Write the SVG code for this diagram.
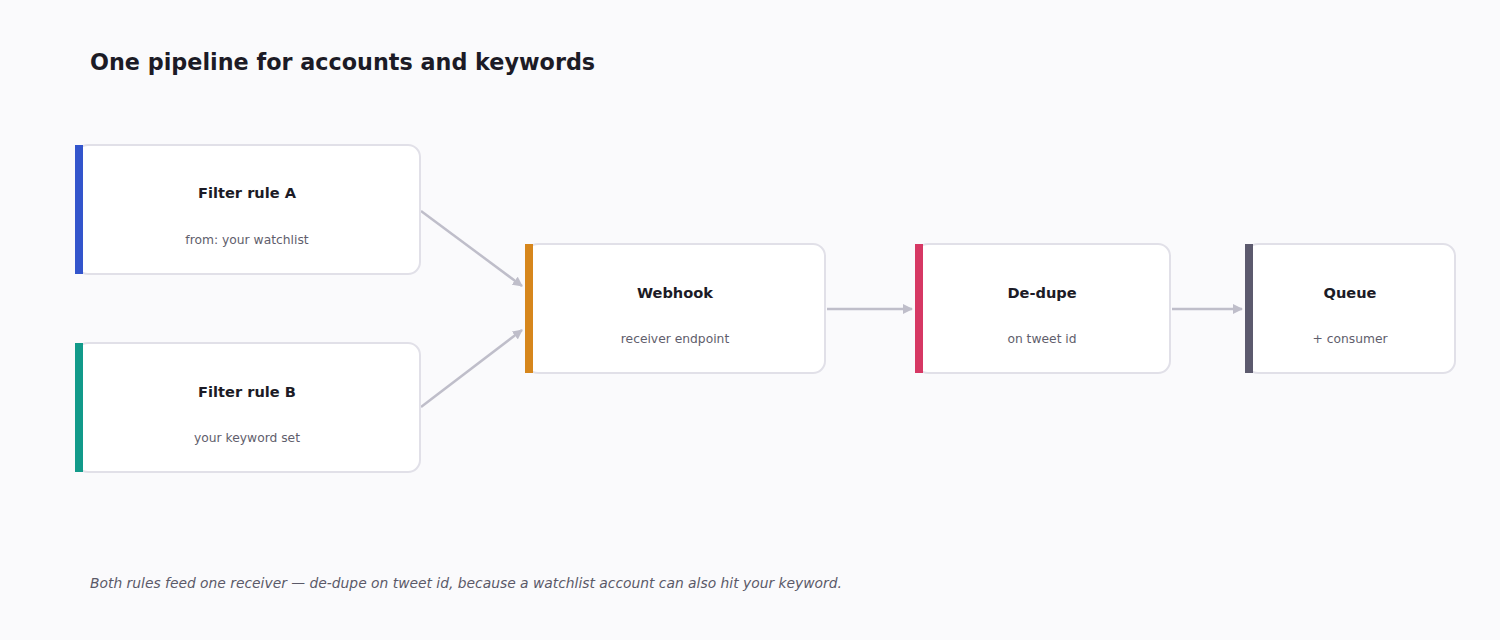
<svg xmlns="http://www.w3.org/2000/svg" width="1500" height="640" viewBox="0 0 1500 640">
<defs>
<marker id="ah" viewBox="0 0 10 10" refX="9" refY="5" markerWidth="10" markerHeight="10" markerUnits="userSpaceOnUse" orient="auto">
<path d="M0,0 L10,5 L0,10 z" fill="#bfbeca"/>
</marker>
</defs>
<style>
.card{fill:#ffffff;stroke:#e1e0e8;stroke-width:2}
.t{font-family:"DejaVu Sans",sans-serif;font-weight:bold;font-size:14.6px;fill:#1c1b26;text-anchor:middle}
.s{font-family:"DejaVu Sans",sans-serif;font-size:12.3px;fill:#5f5e6c;text-anchor:middle}
.c{fill:none;stroke:#bfbeca;stroke-width:2.5;marker-end:url(#ah)}
</style>
<rect width="1500" height="640" fill="#fafafc"/>
<text x="90" y="70" font-family="DejaVu Sans, sans-serif" font-weight="bold" font-size="22.3" fill="#1c1b26">One pipeline for accounts and keywords</text>
<g id="connectors">
<path class="c" d="M421,211 L522,286"/>
<path class="c" d="M421,407 L522,330"/>
<path class="c" d="M827,309 L912,309"/>
<path class="c" d="M1172,309 L1242,309"/>
</g>
<g id="filterA">
<rect class="card" x="76" y="145" width="344" height="129" rx="12"/>
<rect x="75" y="145" width="8" height="129" fill="#3355cc"/>
<text class="t" x="247" y="198">Filter rule A</text>
<text class="s" x="247" y="244">from: your watchlist</text>
</g>
<g id="filterB">
<rect class="card" x="76" y="343" width="344" height="129" rx="12"/>
<rect x="75" y="343" width="8" height="129" fill="#129a8a"/>
<text class="t" x="247" y="397">Filter rule B</text>
<text class="s" x="247" y="442">your keyword set</text>
</g>
<g id="webhook">
<rect class="card" x="526" y="244" width="299" height="129" rx="12"/>
<rect x="525" y="244" width="8" height="129" fill="#d6861c"/>
<text class="t" x="675" y="298">Webhook</text>
<text class="s" x="675" y="343">receiver endpoint</text>
</g>
<g id="dedupe">
<rect class="card" x="916" y="244" width="254" height="129" rx="12"/>
<rect x="915" y="244" width="8" height="129" fill="#d63864"/>
<text class="t" x="1042" y="298">De-dupe</text>
<text class="s" x="1042" y="343">on tweet id</text>
</g>
<g id="queue">
<rect class="card" x="1246" y="244" width="209" height="129" rx="12"/>
<rect x="1245" y="244" width="8" height="129" fill="#5c5a6e"/>
<text class="t" x="1350" y="298">Queue</text>
<text class="s" x="1350" y="343">+ consumer</text>
</g>
<text x="90" y="588" font-family="DejaVu Sans, sans-serif" font-style="italic" font-size="13.85" fill="#5a5968">Both rules feed one receiver — de-dupe on tweet id, because a watchlist account can also hit your keyword.</text>
</svg>
